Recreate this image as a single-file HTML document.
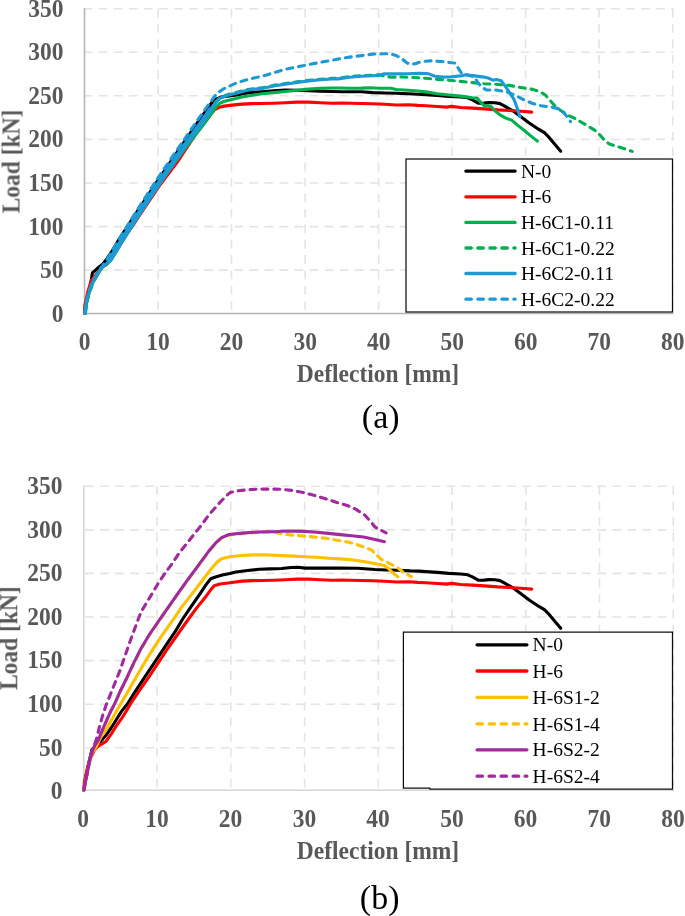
<!DOCTYPE html>
<html><head><meta charset="utf-8"><title>Load-deflection curves</title>
<style>
html,body{margin:0;padding:0;background:#fff;}
svg{display:block}
.g{stroke:#e4e4e4;stroke-width:1.6;stroke-dasharray:8.7,6.37;}
.gv{stroke:#e4e4e4;stroke-width:1.6;stroke-dasharray:8.7,6.7;}
.ax{stroke:var(--ax);stroke-width:var(--axw);}
.t{font-family:"Liberation Serif","Times New Roman",serif;font-weight:bold;font-size:23.5px;fill:#595959;}
.l{font-family:"Liberation Serif","Times New Roman",serif;font-size:19.5px;fill:#000;}
.cap{font-family:"Liberation Serif","Times New Roman",serif;font-size:34px;fill:#000;}
</style></head><body>
<svg width="685" height="916" viewBox="0 0 685 916">
<defs><filter id="soft" x="0" y="0" width="100%" height="100%" filterUnits="userSpaceOnUse"><feGaussianBlur stdDeviation="0.45"/></filter></defs>
<rect width="685" height="916" fill="#fff"/>
<g filter="url(#soft)">
<rect width="685" height="916" fill="#fff"/>
<g style="--ax:#b5b5b5;--axw:1.6">
<line x1="84.5" y1="270.1" x2="673.5" y2="270.1" class="g" stroke-dashoffset="0.9"/>
<line x1="84.5" y1="226.6" x2="673.5" y2="226.6" class="g" stroke-dashoffset="0.9"/>
<line x1="84.5" y1="183.0" x2="673.5" y2="183.0" class="g" stroke-dashoffset="0.9"/>
<line x1="84.5" y1="139.4" x2="673.5" y2="139.4" class="g" stroke-dashoffset="0.9"/>
<line x1="84.5" y1="95.8" x2="673.5" y2="95.8" class="g" stroke-dashoffset="0.9"/>
<line x1="84.5" y1="52.3" x2="673.5" y2="52.3" class="g" stroke-dashoffset="0.9"/>
<line x1="84.5" y1="8.7" x2="673.5" y2="8.7" class="g" stroke-dashoffset="0.9"/>
<line x1="158.0" y1="8.7" x2="158.0" y2="313.5" class="gv"/>
<line x1="231.5" y1="8.7" x2="231.5" y2="313.5" class="gv"/>
<line x1="305.1" y1="8.7" x2="305.1" y2="313.5" class="gv"/>
<line x1="378.6" y1="8.7" x2="378.6" y2="313.5" class="gv"/>
<line x1="452.1" y1="8.7" x2="452.1" y2="313.5" class="gv"/>
<line x1="525.6" y1="8.7" x2="525.6" y2="313.5" class="gv"/>
<line x1="599.1" y1="8.7" x2="599.1" y2="313.5" class="gv"/>
<line x1="672.7" y1="8.7" x2="672.7" y2="313.5" class="gv"/>
<line x1="84.5" y1="313.5" x2="673.5" y2="313.5" class="ax"/>
<line x1="84.5" y1="314.3" x2="84.5" y2="7.9" class="ax"/>
</g>
<g fill="none" stroke-width="3.1" stroke-linejoin="round" stroke-linecap="round">
<polyline points="85.0,313.4 86.1,303.6 88.5,293.4 90.6,284.0 91.6,278.0 92.4,272.9 98.3,267.6 102.4,264.5 106.0,260.0 112.4,250.5 118.4,240.4 124.7,230.7 138.0,210.3 158.4,179.6 178.4,150.5 199.0,120.5 213.4,100.5 217.0,98.6 221.5,97.0 236.9,94.9 247.1,92.9 257.3,92.0 262.0,91.7 273.7,90.7 285.4,90.1 297.0,90.2 308.7,90.6 320.4,91.1 332.1,91.5 342.0,91.8 361.4,91.8 373.0,92.6 384.7,93.0 396.4,93.3 408.1,93.8 418.0,94.2 425.7,94.6 437.4,95.4 449.0,96.4 460.7,97.0 467.7,97.8 472.4,99.9 478.2,103.2 484.1,103.1 489.0,102.6 495.0,102.8 500.0,103.6 504.7,106.2 512.9,110.8 519.9,116.0 529.2,123.0 538.5,129.2 544.4,132.7 549.1,137.4 560.7,151.2" stroke="#000"/>
<polyline points="84.5,313.4 84.8,305.6 87.7,292.3 91.2,280.6 96.0,274.5 101.4,267.6 106.6,264.5 111.8,257.2 116.9,248.9 122.1,241.7 127.3,233.4 134.5,223.0 139.8,215.0 159.5,185.6 177.3,162.1 196.9,132.5 206.5,120.2 211.4,113.5 214.8,109.6 218.6,107.6 222.6,106.4 231.8,105.1 242.0,104.1 252.2,103.6 262.0,103.5 273.7,103.2 285.4,102.7 297.0,102.1 308.7,102.1 320.4,102.7 332.1,103.3 342.0,103.0 349.7,103.2 361.4,103.5 373.0,103.8 384.7,104.3 396.4,105.0 408.1,104.7 418.0,105.4 425.7,105.7 437.4,106.5 446.7,107.1 451.4,106.4 460.7,107.5 472.4,108.1 484.1,108.9 497.7,109.9 509.4,110.5 521.0,111.3 531.7,112.1" stroke="#ff0000"/>
<polyline points="85.3,313.5 86.4,303.7 89.0,293.5 92.6,283.2 97.2,275.1 102.3,266.9 106.8,264.3 111.1,259.8 116.8,250.6 122.4,241.2 128.4,231.7 141.9,210.5 162.3,179.8 183.6,150.5 205.3,122.0 216.4,106.7 219.5,103.6 223.6,101.5 231.8,99.5 242.0,97.0 252.2,95.2 262.0,93.8 273.7,92.6 285.4,91.5 297.0,90.3 308.7,89.1 320.4,88.3 332.1,88.0 342.0,88.0 349.7,88.3 361.4,88.1 370.7,87.7 378.9,88.3 390.6,88.3 396.4,89.5 408.1,90.3 418.0,91.0 425.7,91.9 437.4,93.8 449.0,95.0 460.7,96.1 472.4,97.8 477.1,98.1 480.6,102.2 484.1,105.5 490.7,106.4 495.3,111.1 500.0,114.8 505.8,118.1 511.7,120.1 517.5,125.1 523.4,129.8 530.4,135.6 537.4,141.1" stroke="#00b050"/>
<polyline points="85.4,313.4 86.5,303.6 89.1,293.4 92.7,283.1 97.3,275.0 102.4,266.8 106.9,264.2 110.9,259.6 116.6,250.4 122.2,241.0 128.2,231.5 141.7,210.3 162.1,179.6 182.1,150.5 202.7,122.0 211.4,109.3 216.4,101.1 220.5,97.4 226.7,95.0 236.9,92.3 247.1,89.7 257.3,88.2 262.0,87.9 273.7,85.4 285.4,83.5 297.0,81.9 308.7,80.3 320.4,79.2 332.1,78.4 338.0,78.3 349.7,76.6 361.4,75.7 373.0,75.2 378.9,74.8 384.7,76.0 390.6,77.2 402.2,77.0 414.0,77.5 425.7,78.3 437.4,79.4 449.0,80.3 460.7,81.4 472.4,82.6 484.1,83.7 497.7,84.4 509.4,85.4 521.0,87.5 532.7,89.4 540.9,92.1 545.6,95.3 550.2,100.5 554.9,105.8 560.7,110.5 567.3,114.9 574.3,118.1 582.5,122.8 594.2,129.8 600.0,135.0 604.7,140.3 609.4,144.1 617.6,146.7 625.7,149.1 632.2,151.4" stroke="#00b050" stroke-dasharray="6,5.9"/>
<polyline points="110.1,259.6 115.8,250.4 121.4,241.0 127.4,231.5 140.9,210.3 161.3,179.6 181.3,150.5 201.9,122.0 210.6,109.3" stroke="#1f9ad6" stroke-width="5.0"/>
<polyline points="85.0,313.4 86.1,303.6 88.7,293.4 92.3,283.1 96.9,275.0 102.0,266.8 106.5,264.2 110.5,259.6 116.2,250.4 121.8,241.0 127.8,231.5 141.3,210.3 161.7,179.6 181.7,150.5 202.3,122.0 211.0,109.3 216.4,101.7 220.5,98.0 226.7,95.6 236.9,92.9 247.1,90.3 257.3,88.8 262.0,88.5 273.7,86.0 285.4,84.1 297.0,82.5 308.7,80.9 320.4,79.8 332.1,79.0 338.0,78.9 349.7,77.2 361.4,76.3 373.0,75.8 378.9,75.4 383.5,73.9 396.4,73.9 408.1,73.7 418.0,73.3 428.0,73.6 435.0,76.3 443.2,77.1 451.4,76.8 460.7,75.9 465.4,74.8 474.7,75.9 484.1,77.1 488.0,78.0 493.0,80.1 496.5,79.5 501.2,80.7 504.7,85.4 509.4,92.4 514.0,99.4 517.0,107.5 519.9,116.7" stroke="#1f9ad6"/>
<polyline points="85.0,313.4 86.0,303.4 88.5,293.0 92.0,282.6 96.6,274.4 102.2,266.3 106.4,260.2 112.5,250.5 118.3,240.4 124.4,230.7 137.0,210.3 156.8,179.6 176.6,150.5 197.3,120.5 209.3,103.6 216.4,93.9 223.6,88.8 236.9,82.6 251.2,78.6 262.0,76.3 273.7,72.8 285.4,69.3 297.0,66.9 308.7,64.6 320.4,62.3 332.1,60.3 338.0,59.1 349.7,57.1 361.4,55.6 373.0,54.1 382.4,53.8 389.4,53.8 395.2,55.2 401.1,57.9 405.7,62.0 409.2,64.1 415.1,63.8 421.0,61.6 431.5,60.8 443.2,61.6 451.4,62.7 455.5,63.1 459.0,69.5 461.9,73.6 468.9,75.4 474.7,77.1 477.7,82.4 481.7,87.0 486.4,90.0 495.3,90.0 503.5,91.2 509.4,92.9 516.4,95.9 523.4,99.6 532.7,103.5 540.9,105.8 551.4,107.0 558.4,108.7 563.5,112.2 567.7,117.5 570.5,121.6" stroke="#1f9ad6" stroke-dasharray="6,5.9"/>
</g>
<g class="t" text-anchor="end">
<text transform="translate(63.5,321.7) scale(1,1.05)">0</text>
<text transform="translate(63.5,278.1) scale(1,1.05)">50</text>
<text transform="translate(63.5,234.6) scale(1,1.05)">100</text>
<text transform="translate(63.5,191.0) scale(1,1.05)">150</text>
<text transform="translate(63.5,147.4) scale(1,1.05)">200</text>
<text transform="translate(63.5,103.9) scale(1,1.05)">250</text>
<text transform="translate(63.5,60.3) scale(1,1.05)">300</text>
<text transform="translate(63.5,16.7) scale(1,1.05)">350</text>
</g><g class="t" text-anchor="middle">
<text transform="translate(84.6,349.5) scale(1,1.05)">0</text>
<text transform="translate(158.1,349.5) scale(1,1.05)">10</text>
<text transform="translate(231.6,349.5) scale(1,1.05)">20</text>
<text transform="translate(305.2,349.5) scale(1,1.05)">30</text>
<text transform="translate(378.7,349.5) scale(1,1.05)">40</text>
<text transform="translate(452.2,349.5) scale(1,1.05)">50</text>
<text transform="translate(525.7,349.5) scale(1,1.05)">60</text>
<text transform="translate(599.2,349.5) scale(1,1.05)">70</text>
<text transform="translate(672.8,349.5) scale(1,1.05)">80</text>
<text transform="translate(378,381.9) scale(1,1.05)">Deflection [mm]</text>
<text transform="translate(19.6,161.5) rotate(-90) scale(1,1.05)">Load [kN]</text>
</g>
<text x="380.7" y="427.8" class="cap" text-anchor="middle">(a)</text>
<rect x="406" y="159" width="266.5" height="153" fill="#fff" stroke="#111" stroke-width="1.25"/>
<g stroke-width="3.3" stroke-linecap="round">
<line x1="465.9" y1="171.1" x2="515.1" y2="171.1" stroke="#000"/>
<line x1="465.9" y1="196.8" x2="515.1" y2="196.8" stroke="#ff0000"/>
<line x1="465.9" y1="222.4" x2="515.1" y2="222.4" stroke="#00b050"/>
<line x1="465.9" y1="248.0" x2="515.1" y2="248.0" stroke="#00b050" stroke-dasharray="5.45,6.55"/>
<line x1="465.9" y1="273.5" x2="515.1" y2="273.5" stroke="#1f9ad6"/>
<line x1="465.9" y1="299.2" x2="515.1" y2="299.2" stroke="#1f9ad6" stroke-dasharray="5.45,6.55"/>
</g><g class="l">
<text x="521" y="177.7">N-0</text>
<text x="521" y="203.4">H-6</text>
<text x="521" y="229.0">H-6C1-0.11</text>
<text x="521" y="254.6">H-6C1-0.22</text>
<text x="521" y="280.1">H-6C2-0.11</text>
<text x="521" y="305.8">H-6C2-0.22</text>
</g>
<g style="--ax:#cdcdcd;--axw:1.3">
<line x1="83.3" y1="747.7" x2="674.1" y2="747.7" class="g" stroke-dashoffset="13.37"/>
<line x1="83.3" y1="704.2" x2="674.1" y2="704.2" class="g" stroke-dashoffset="13.37"/>
<line x1="83.3" y1="660.6" x2="674.1" y2="660.6" class="g" stroke-dashoffset="13.37"/>
<line x1="83.3" y1="617.0" x2="674.1" y2="617.0" class="g" stroke-dashoffset="13.37"/>
<line x1="83.3" y1="573.4" x2="674.1" y2="573.4" class="g" stroke-dashoffset="13.37"/>
<line x1="83.3" y1="529.9" x2="674.1" y2="529.9" class="g" stroke-dashoffset="13.37"/>
<line x1="83.3" y1="486.3" x2="674.1" y2="486.3" class="g" stroke-dashoffset="13.37"/>
<line x1="157.1" y1="486.3" x2="157.1" y2="790.2" class="gv"/>
<line x1="230.8" y1="486.3" x2="230.8" y2="790.2" class="gv"/>
<line x1="304.6" y1="486.3" x2="304.6" y2="790.2" class="gv"/>
<line x1="378.3" y1="486.3" x2="378.3" y2="790.2" class="gv"/>
<line x1="452.1" y1="486.3" x2="452.1" y2="790.2" class="gv"/>
<line x1="525.8" y1="486.3" x2="525.8" y2="790.2" class="gv"/>
<line x1="599.5" y1="486.3" x2="599.5" y2="790.2" class="gv"/>
<line x1="673.3" y1="486.3" x2="673.3" y2="790.2" class="gv"/>
<line x1="83.3" y1="790.2" x2="674.1" y2="790.2" class="ax"/>
<line x1="83.8" y1="791.0" x2="83.8" y2="485.5" class="ax"/>
</g>
<g fill="none" stroke-width="3.1" stroke-linejoin="round" stroke-linecap="round">
<polyline points="83.9,790.0 85.8,776.6 88.8,762.6 92.0,749.6 97.4,744.8 100.2,742.0 105.9,735.3 111.1,728.0 116.3,719.7 121.5,711.4 127.4,704.0 135.0,691.8 146.7,674.2 156.1,660.2 165.4,646.2 174.8,632.2 182.7,619.0 190.9,606.8 199.1,595.1 206.1,584.6 210.7,578.7 215.4,577.0 222.4,575.0 230.0,573.5 235.9,572.0 247.6,570.5 259.2,569.3 270.0,568.9 281.7,568.5 291.0,567.5 298.0,567.3 305.0,568.1 316.7,568.1 328.4,568.1 340.0,568.0 357.5,568.3 375.0,569.5 386.7,570.0 398.4,570.3 410.1,570.9 419.3,571.1 425.7,571.6 437.4,572.4 449.0,573.4 460.7,574.0 467.7,574.8 472.4,576.9 478.2,580.2 484.1,580.1 489.0,579.6 495.0,579.8 500.0,580.6 504.7,583.2 512.9,587.8 519.9,593.0 529.2,600.0 538.5,606.2 544.4,609.7 549.1,614.4 560.7,628.2" stroke="#000"/>
<polyline points="83.9,790.0 84.3,782.0 87.2,769.0 90.7,757.5 94.5,750.0 98.0,746.5 100.7,744.6 105.9,741.5 111.1,734.2 116.3,725.9 121.5,718.7 126.7,710.4 130.4,704.0 138.5,691.8 149.1,676.6 158.4,662.6 167.7,648.5 180.0,631.0 188.5,619.0 196.7,607.9 206.1,596.2 210.7,589.8 214.2,585.7 220.1,584.0 230.0,582.8 242.0,581.1 252.2,580.6 262.0,580.5 273.7,580.2 285.4,579.7 297.0,579.1 308.7,579.1 320.4,579.7 332.1,580.3 342.0,580.0 349.7,580.2 361.4,580.5 373.0,580.8 384.7,581.3 396.4,582.0 408.1,581.7 418.0,582.4 425.7,582.7 437.4,583.5 446.7,584.1 451.4,583.4 460.7,584.5 472.4,585.1 484.1,585.9 497.7,586.9 509.4,587.5 521.0,588.3 531.7,589.1" stroke="#ff0000"/>
<polyline points="83.9,790.0 85.2,783.0 87.3,772.6 89.4,762.2 92.2,752.5 95.6,748.0 100.7,737.3 105.9,730.1 111.1,720.7 116.3,711.4 121.5,702.5 129.2,689.4 138.5,673.1 146.7,659.1 154.9,646.2 164.2,632.2 173.0,619.8 182.7,605.6 192.0,593.9 201.6,581.5 210.7,569.4 216.6,562.4 221.5,558.8 230.0,556.8 241.7,555.5 253.4,554.9 265.1,554.9 275.0,555.3 281.7,555.6 293.4,556.1 305.0,556.8 316.7,557.3 328.4,558.2 340.1,558.9 351.7,559.8 363.4,561.5 375.0,563.6 384.4,565.6 387.9,568.0 392.6,572.6 397.8,576.7" stroke="#ffc000"/>
<polyline points="83.9,790.5 85.2,783.5 87.3,773.1 89.3,762.7 91.9,752.4 94.8,746.0 98.1,741.0 100.7,734.7 105.9,722.3 111.1,710.9 114.8,704.0 119.9,692.3 126.9,678.2 133.9,663.1 140.9,649.2 149.1,635.5 158.4,621.9 169.9,605.4 179.2,592.1 188.5,579.1 195.0,570.3 202.0,560.8 209.0,551.3 215.7,543.4 221.6,538.2 229.0,535.0 241.7,533.6 253.4,532.8 265.1,532.3 275.0,532.2 281.7,534.1 285.2,534.3 293.4,535.2 296.9,535.4 305.0,536.2 309.7,536.6 316.7,537.2 321.4,537.8 328.4,538.6 333.1,539.5 341.8,541.0 348.2,542.1 355.2,544.0 363.4,546.9 371.5,549.9 376.2,554.5 380.9,559.2 389.1,563.3 397.2,567.6 403.1,572.0 411.2,576.7" stroke="#ffc000" stroke-dasharray="6,5.9"/>
<polyline points="83.9,790.0 85.2,783.0 87.3,772.6 89.3,762.2 91.9,751.9 94.8,745.5 98.1,740.5 100.7,734.2 105.9,721.8 111.1,710.4 114.8,703.5 119.9,691.8 126.9,677.7 133.9,662.6 140.9,648.7 149.1,635.0 158.4,621.4 169.9,604.9 179.2,591.6 188.5,578.6 195.0,569.8 202.0,560.3 209.0,550.8 215.7,542.9 221.6,537.7 229.0,534.5 241.7,533.1 253.4,532.3 265.1,531.8 275.0,531.7 281.7,531.2 293.4,531.1 305.0,531.4 316.7,532.3 328.4,533.4 340.1,534.6 351.7,535.7 363.4,537.0 375.0,539.6 384.4,541.7" stroke="#a0299e"/>
<polyline points="83.9,790.0 85.2,783.0 87.3,772.6 89.3,762.2 91.9,751.9 94.5,744.6 96.6,738.4 99.2,728.0 102.3,716.6 106.2,704.8 110.5,694.1 115.2,682.4 119.9,670.7 123.9,659.1 128.0,647.4 132.1,635.7 135.6,626.4 139.1,617.0 141.5,611.2 151.2,595.1 158.2,583.4 165.2,572.9 172.2,563.5 179.2,553.0 186.2,544.3 194.8,533.3 201.1,525.5 209.0,514.8 217.2,505.4 225.4,496.7 230.0,492.6 235.9,491.1 247.6,489.7 260.4,489.1 275.0,489.1 281.7,489.3 293.4,490.6 305.0,492.9 316.7,496.1 328.4,499.6 340.1,503.5 347.0,505.4 355.2,508.9 364.5,514.8 370.4,521.2 375.0,527.0 379.7,529.4 386.1,532.9" stroke="#a0299e" stroke-dasharray="6,5.9"/>
</g>
<g class="t" text-anchor="end">
<text transform="translate(62.5,799.1) scale(1,1.05)">0</text>
<text transform="translate(62.5,755.5) scale(1,1.05)">50</text>
<text transform="translate(62.5,712.0) scale(1,1.05)">100</text>
<text transform="translate(62.5,668.4) scale(1,1.05)">150</text>
<text transform="translate(62.5,624.8) scale(1,1.05)">200</text>
<text transform="translate(62.5,581.2) scale(1,1.05)">250</text>
<text transform="translate(62.5,537.7) scale(1,1.05)">300</text>
<text transform="translate(62.5,494.1) scale(1,1.05)">350</text>
</g><g class="t" text-anchor="middle">
<text transform="translate(83.1,827.0) scale(1,1.05)">0</text>
<text transform="translate(156.9,827.0) scale(1,1.05)">10</text>
<text transform="translate(230.6,827.0) scale(1,1.05)">20</text>
<text transform="translate(304.4,827.0) scale(1,1.05)">30</text>
<text transform="translate(378.1,827.0) scale(1,1.05)">40</text>
<text transform="translate(451.9,827.0) scale(1,1.05)">50</text>
<text transform="translate(525.6,827.0) scale(1,1.05)">60</text>
<text transform="translate(599.3,827.0) scale(1,1.05)">70</text>
<text transform="translate(673.1,827.0) scale(1,1.05)">80</text>
<text transform="translate(378,858.8) scale(1,1.05)">Deflection [mm]</text>
<text transform="translate(17.3,638.2) rotate(-90) scale(1,1.05)">Load [kN]</text>
</g>
<text x="379.7" y="909.4" class="cap" text-anchor="middle">(b)</text>
<path d="M403.4,632 H672.5 V789 H429.8 V788.1 H403.4 Z" fill="#fff" stroke="#111" stroke-width="1.25"/>
<g stroke-width="3.3" stroke-linecap="round">
<line x1="477.1" y1="644.8" x2="526.9" y2="644.8" stroke="#000"/>
<line x1="477.1" y1="671.0" x2="526.9" y2="671.0" stroke="#ff0000"/>
<line x1="477.1" y1="697.4" x2="526.9" y2="697.4" stroke="#ffc000"/>
<line x1="477.1" y1="723.9" x2="526.9" y2="723.9" stroke="#ffc000" stroke-dasharray="5.45,6.55"/>
<line x1="477.1" y1="749.8" x2="526.9" y2="749.8" stroke="#a0299e"/>
<line x1="477.1" y1="776.2" x2="526.9" y2="776.2" stroke="#a0299e" stroke-dasharray="5.45,6.55"/>
</g><g class="l">
<text x="532.6" y="651.4">N-0</text>
<text x="532.6" y="677.6">H-6</text>
<text x="532.6" y="704.0">H-6S1-2</text>
<text x="532.6" y="730.5">H-6S1-4</text>
<text x="532.6" y="756.4">H-6S2-2</text>
<text x="532.6" y="782.8">H-6S2-4</text>
</g>
</g>
</svg>
</body></html>
